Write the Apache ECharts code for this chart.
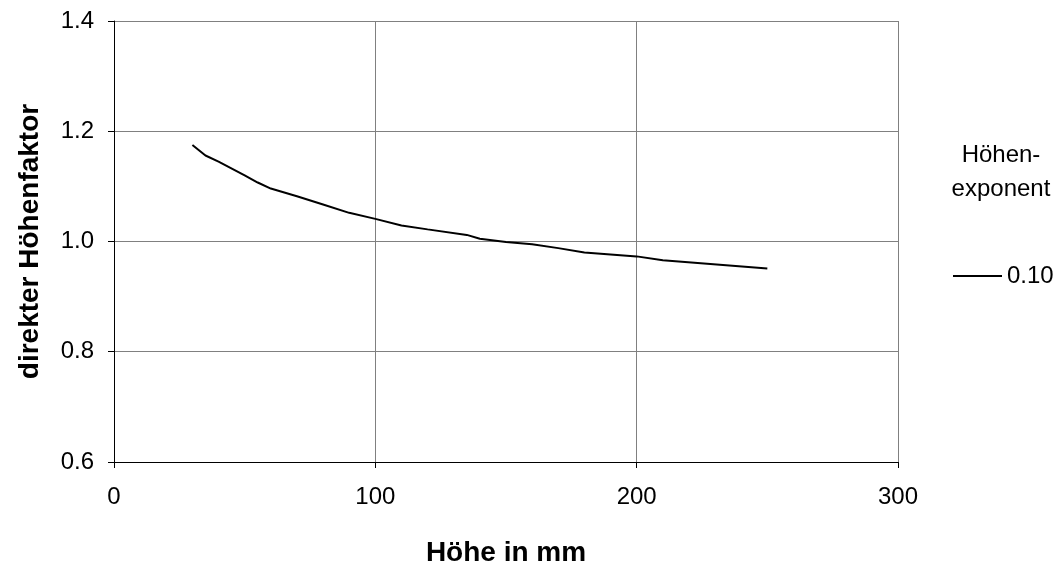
<!DOCTYPE html>
<html>
<head>
<meta charset="utf-8">
<script src="https://cdn.jsdelivr.net/npm/echarts@6/dist/echarts.min.js"></script>
<style>
  html, body { margin: 0; padding: 0; background: #fff; }
  #chart { width: 1060px; height: 572px; }
</style>
</head>
<body>
<div id="chart"></div>
<script>
// Height in mm and the direct height factor for exponent 0.10
const heightsMm = [30, 35, 40, 50, 55, 60, 70, 80, 90, 100, 110, 120, 135, 140, 150, 160, 170, 180, 200, 210, 250];
const heightFactor = [1.175, 1.156, 1.145, 1.120, 1.107, 1.096, 1.082, 1.067, 1.052, 1.041, 1.029, 1.022, 1.012, 1.005, 0.999, 0.995, 0.988, 0.980, 0.973, 0.966, 0.951];
const seriesName = '0.10';
const legendTitle = ['Höhen-', 'exponent'];

const font = 'Liberation Sans, Arial, sans-serif';
const chart = echarts.init(document.getElementById('chart'), null, { renderer: 'canvas' });

chart.setOption({
  animation: false,
  backgroundColor: '#ffffff',
  grid: { left: 114, top: 21, right: 162, bottom: 107, containLabel: false },
  xAxis: {
    type: 'value', min: 0, max: 300, interval: 100,
    name: 'Höhe in mm', nameLocation: 'middle', nameGap: 77,
    nameTextStyle: { fontFamily: font, fontSize: 28, fontWeight: 'bold', color: '#000' },
    axisLine: { show: true, lineStyle: { color: '#000', width: 1 } },
    axisTick: { show: true, length: 6, lineStyle: { color: '#000' } },
    axisLabel: { fontFamily: font, fontSize: 24, color: '#000', margin: 23 },
    splitLine: { show: true, lineStyle: { color: '#808080', width: 1 } }
  },
  yAxis: {
    type: 'value', min: 0.6, max: 1.4, interval: 0.2,
    name: 'direkter Höhenfaktor', nameLocation: 'middle', nameGap: 70,
    nameTextStyle: { fontFamily: font, fontSize: 28, fontWeight: 'bold', color: '#000' },
    axisLine: { show: true, lineStyle: { color: '#000', width: 1 } },
    axisTick: { show: true, length: 6, lineStyle: { color: '#000' } },
    axisLabel: { fontFamily: font, fontSize: 24, color: '#000', margin: 20,
      formatter: v => v.toFixed(1) },
    splitLine: { show: true, lineStyle: { color: '#808080', width: 1 } }
  },
  legend: {
    data: [{ name: seriesName }],
    left: 948, top: 259,
    icon: 'rect', itemWidth: 49, itemHeight: 2, itemGap: 4,
    textStyle: { fontFamily: font, fontSize: 24, color: '#000' }
  },
  // two-line legend heading above the series entry
  graphic: legendTitle.map((t, i) => ({
    type: 'text',
    x: 1001, y: 155 + i * 34,
    style: { text: t, fontFamily: font, fontSize: 24, fill: '#000', align: 'center', verticalAlign: 'middle' }
  })),
  series: [{
    name: seriesName,
    type: 'line',
    data: heightsMm.map((h, i) => [h, heightFactor[i]]),
    showSymbol: false,
    lineStyle: { color: '#000', width: 2 },
    itemStyle: { color: '#000' }
  }]
});
</script>
</body>
</html>
